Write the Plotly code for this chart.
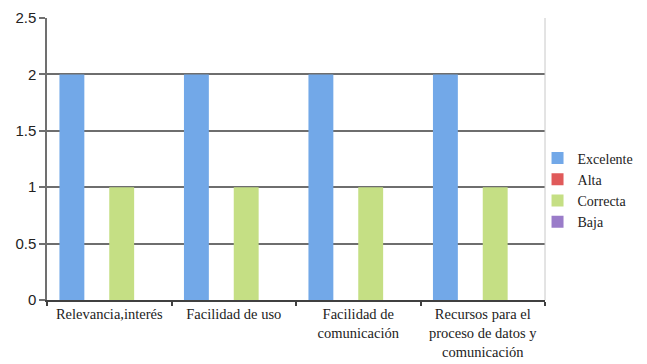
import plotly.graph_objects as go

categories = ["Relevancia,interés", "Facilidad de uso", "Facilidad de<br>comunicación",
              "Recursos para el<br>proceso de datos y<br>comunicación"]
series_names = ["Excelente", "Alta", "Correcta", "Baja"]
excelente = [2, 2, 2, 2]
alta = [0, 0, 0, 0]
correcta = [1, 1, 1, 1]
baja = [0, 0, 0, 0]
y_ticks = [0, 0.5, 1, 1.5, 2, 2.5]
y_tick_labels = ["0", "0.5", "1", "1.5", "2", "2.5"]

colors = ["#72a8e8", "#e05a5a", "#c5df84", "#9a7cc9"]

fig = go.Figure()
for name, vals, c in zip(series_names, [excelente, alta, correcta, baja], colors):
    fig.add_trace(go.Bar(x=categories, y=vals, name=name,
                         marker=dict(color=c, line=dict(width=0))))

fig.update_layout(
    width=647, height=364,
    margin=dict(l=47, r=102, t=18, b=64, autoexpand=False),
    paper_bgcolor="white", plot_bgcolor="white",
    barmode="group", bargap=0.2, bargroupgap=0,
    font=dict(family="Liberation Serif, serif", size=15, color="#222"),
    legend=dict(x=0.985, y=0.39, xanchor="left", yanchor="middle",
                font=dict(size=14, family="Liberation Serif, serif", color="#222"),
                itemwidth=30, tracegroupgap=0, bgcolor="rgba(0,0,0,0)"),
    showlegend=True,
)
fig.update_xaxes(
    showline=True, linecolor="#404040", linewidth=1.5,
    ticks="outside", tickson="boundaries", ticklen=4, tickcolor="#404040", tickwidth=1.5,
    showgrid=False, tickangle=0,
    tickfont=dict(size=14.5, family="Liberation Serif, serif", color="#222"),
)
fig.update_yaxes(
    range=[0, 2.5], tickvals=y_ticks, ticktext=y_tick_labels,
    showline=True, linecolor="#707070", linewidth=1.5,
    ticks="outside", ticklen=6, tickcolor="#707070", tickwidth=1.5,
    showgrid=True, gridcolor="#6e6e6e", gridwidth=1.5, zeroline=False,
    tickfont=dict(size=15, family="Liberation Sans, DejaVu Sans, sans-serif", color="#222"),
)
fig.add_shape(type="line", xref="paper", yref="paper", x0=1, x1=1, y0=0, y1=1,
              line=dict(color="#c8c8c8", width=1))

fig.write_html("out.html", config={"displayModeBar": False},
               post_script="document.body.style.margin='0';")
